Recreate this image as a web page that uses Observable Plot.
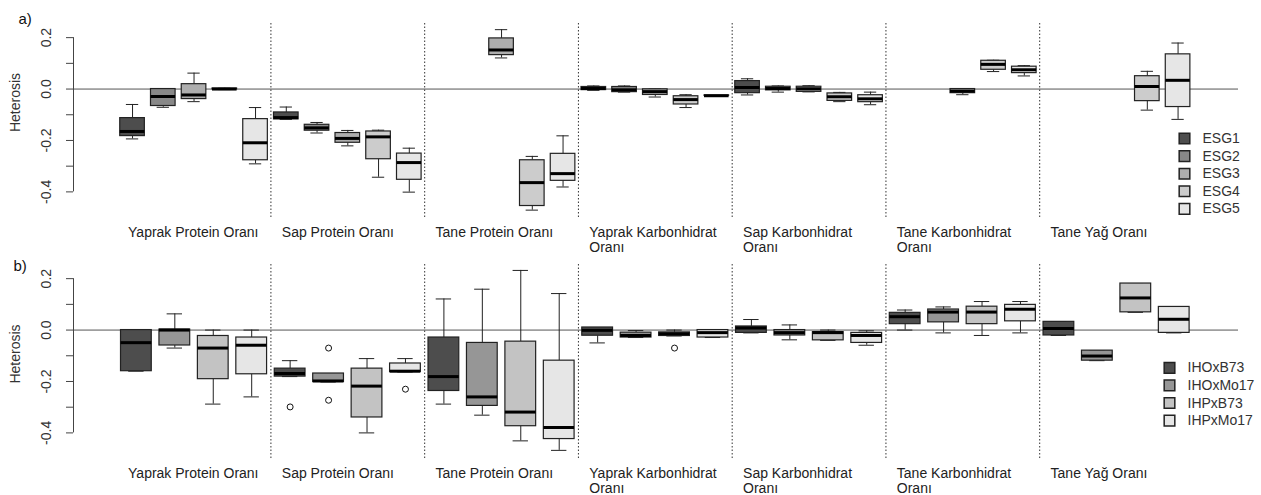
<!DOCTYPE html>
<html><head><meta charset="utf-8">
<script src="https://cdn.jsdelivr.net/npm/d3@7"></script>
<script src="https://cdn.jsdelivr.net/npm/@observablehq/plot@0.6"></script>
<style>
html,body{margin:0;padding:0;background:#fff;}
#chart svg{display:block;}
</style></head><body><div id="chart"></div>
<script>
// ---- categories / tick labels ----
const traitLabels = ["Yaprak Protein Oranı","Sap Protein Oranı","Tane Protein Oranı","Yaprak Karbonhidrat\nOranı","Sap Karbonhidrat\nOranı","Tane Karbonhidrat\nOranı","Tane Yağ Oranı"];
const yTicks = [-0.4,-0.3,-0.2,-0.1,0,0.1,0.2];
const yLabels = [-0.4,-0.2,0,0.2];
const panelNames = ["a","b"];

// ---- panel a series: [lo, q1, median, q3, hi] per trait (null = no data) ----
const seriesA = ["ESG1","ESG2","ESG3","ESG4","ESG5"];
const colorsA = ["#4D4D4D","#888888","#AEAEAE","#CCCCCC","#E6E6E6"];
const esg1 = [[-0.194,-0.183,-0.165,-0.113,-0.060],[-0.118,-0.118,-0.111,-0.091,-0.070],null,[-0.005,-0.004,0.002,0.008,0.012],[-0.023,-0.016,0.006,0.031,0.040],null,null];
const esg2 = [[-0.071,-0.066,-0.029,0.0,0.0],[-0.171,-0.162,-0.151,-0.139,-0.130],null,[-0.012,-0.012,-0.003,0.008,0.012],[-0.012,-0.005,0.002,0.009,0.012],null,null];
const esg3 = [[-0.049,-0.039,-0.023,0.019,0.062],[-0.221,-0.209,-0.192,-0.171,-0.161],[0.121,0.132,0.152,0.197,0.231],[-0.031,-0.023,-0.010,-0.001,0.0],[-0.011,-0.011,0.001,0.009,0.013],[-0.022,-0.016,-0.008,0.0,0.0],null];
const esg4 = [[-0.002,-0.001,0.0,0.002,0.003],[-0.343,-0.273,-0.186,-0.165,-0.160],[-0.471,-0.455,-0.364,-0.277,-0.262],[-0.072,-0.060,-0.041,-0.028,-0.022],[-0.049,-0.046,-0.030,-0.017,-0.013],[0.068,0.075,0.096,0.110,0.112],[-0.082,-0.047,0.010,0.050,0.069]];
const esg5 = [[-0.291,-0.277,-0.209,-0.117,-0.072],[-0.401,-0.353,-0.286,-0.251,-0.230],[-0.381,-0.357,-0.329,-0.252,-0.182],[-0.027,-0.026,-0.026,-0.025,-0.025],[-0.061,-0.051,-0.038,-0.024,-0.012],[0.051,0.062,0.075,0.087,0.091],[-0.118,-0.070,0.034,0.135,0.179]];

// ---- panel b series ----
const seriesB = ["IHOxB73","IHOxMo17","IHPxB73","IHPxMo17"];
const colorsB = ["#4D4D4D","#969696","#C3C3C3","#E6E6E6"];
const ihoB73 = [[-0.160,-0.160,-0.049,0.0,0.0],[-0.181,-0.181,-0.169,-0.150,-0.119],[-0.288,-0.237,-0.181,-0.029,0.121],[-0.050,-0.022,-0.001,0.010,0.010],[-0.011,-0.011,0.008,0.014,0.041],[0.0,0.023,0.052,0.067,0.078],[-0.021,-0.021,0.006,0.032,0.032]];
const ihoMo17 = [[-0.070,-0.060,0.0,0.002,0.063],[-0.202,-0.202,-0.198,-0.169,-0.169],[-0.331,-0.295,-0.260,-0.050,0.159],[-0.029,-0.029,-0.021,-0.010,-0.002],[-0.038,-0.021,-0.010,0.0,0.020],[-0.011,0.030,0.070,0.080,0.090],[-0.119,-0.119,-0.101,-0.080,-0.080]];
const ihpB73 = [[-0.288,-0.191,-0.070,-0.023,0.0],[-0.400,-0.340,-0.218,-0.150,-0.111],[-0.431,-0.374,-0.319,-0.045,0.232],[-0.023,-0.023,-0.014,-0.009,0.0],[-0.040,-0.040,-0.010,-0.008,0.0],[-0.021,0.023,0.070,0.091,0.111],[0.069,0.069,0.125,0.181,0.181]];
const ihpMo17 = [[-0.260,-0.172,-0.059,-0.029,0.0],[-0.163,-0.163,-0.160,-0.130,-0.111],[-0.468,-0.424,-0.379,-0.119,0.142],[-0.029,-0.029,-0.010,0.0,0.0],[-0.059,-0.050,-0.021,-0.011,-0.003],[-0.011,0.034,0.081,0.098,0.111],[-0.011,-0.011,0.042,0.090,0.090]];
// outliers (panel b): trait index, series, value
const outlierTrait = [1,1,1,1,3];
const outlierSeries = ["IHOxB73","IHOxMo17","IHOxMo17","IHPxMo17","IHPxB73"];
const outlierValue = [-0.299,-0.070,-0.273,-0.230,-0.070];

// ---- build tables ----
function build(panel, names, stats){
  const n = names.length, w = 0.8 / n, out = [];
  names.forEach((s, k) => stats[k].forEach((st, g) => {
    if (!st) return;
    out.push({panel, series: s, u: g + (k - (n - 1) / 2) / n, w, lo: st[0], q1: st[1], med: st[2], q3: st[3], hi: st[4]});
  }));
  return out;
}
const boxes = [...build("a", seriesA, [esg1, esg2, esg3, esg4, esg5]), ...build("b", seriesB, [ihoB73, ihoMo17, ihpB73, ihpMo17])];
const outliers = outlierTrait.map((g, i) => {
  const k = seriesB.indexOf(outlierSeries[i]), n = seriesB.length;
  return {panel: "b", u: g + (k - (n - 1) / 2) / n, value: outlierValue[i]};
});

const xDomain = [-0.784, 6.793];
const ink = "#222";
const legendMarks = [];
seriesA.forEach((s, i) => {
  const d = [{panel: "a", series: s}];
  legendMarks.push(Plot.dot(d, {fy: "panel", fill: "series", stroke: ink, symbol: "square", r: 6, frameAnchor: "top-right", dx: -54, dy: 115 + i * 17.6}));
  legendMarks.push(Plot.text(d, {fy: "panel", text: "series", frameAnchor: "top-right", textAnchor: "start", lineAnchor: "middle", dx: -36, dy: 115 + i * 17.6, fontSize: 14, fill: "#333"}));
});
seriesB.forEach((s, i) => {
  const d = [{panel: "b", series: s}];
  legendMarks.push(Plot.dot(d, {fy: "panel", fill: "series", stroke: ink, symbol: "square", r: 6, frameAnchor: "top-right", dx: -69, dy: 103.3 + i * 17.6}));
  legendMarks.push(Plot.text(d, {fy: "panel", text: "series", frameAnchor: "top-right", textAnchor: "start", lineAnchor: "middle", dx: -51, dy: 103.3 + i * 17.6, fontSize: 14, fill: "#333"}));
});

const chart = Plot.plot({
  width: 1261, height: 495,
  marginLeft: 73, marginRight: 23, marginTop: 23, marginBottom: 36,
  style: {fontFamily: "'Liberation Sans', Arial, sans-serif", fontSize: "14px", color: "#222", background: "white"},
  x: {domain: xDomain, axis: null},
  y: {domain: [-0.5035, 0.255]},
  fy: {domain: panelNames, axis: null, paddingInner: 0.191, paddingOuter: 0, round: false},
  color: {domain: [...seriesA, ...seriesB], range: [...colorsA, ...colorsB]},
  marks: [
    Plot.ruleY([0], {stroke: "#555"}),
    Plot.ruleX(d3.range(6).map(g => g + 0.5), {stroke: "#333", strokeDasharray: "1.5,2"}),
    Plot.ruleX([xDomain[0]], {y1: -0.4, y2: 0.2, stroke: "#444"}),
    Plot.axisY({ticks: yTicks, tickSize: 7, tickFormat: () => "", stroke: "#444"}),
    Plot.text(yLabels, {y: d => d, text: d => d.toFixed(1), frameAnchor: "left", dx: -27, rotate: -90, textAnchor: "middle", lineAnchor: "middle", fontSize: 14, fill: "#333"}),
    Plot.ruleX(boxes, {fy: "panel", x: "u", y1: "q3", y2: "hi", stroke: ink}),
    Plot.ruleX(boxes, {fy: "panel", x: "u", y1: "lo", y2: "q1", stroke: ink}),
    Plot.ruleY(boxes, {fy: "panel", y: "hi", x1: d => d.u - d.w / 4, x2: d => d.u + d.w / 4, stroke: ink}),
    Plot.ruleY(boxes, {fy: "panel", y: "lo", x1: d => d.u - d.w / 4, x2: d => d.u + d.w / 4, stroke: ink}),
    Plot.rect(boxes, {fy: "panel", x1: d => d.u - d.w / 2, x2: d => d.u + d.w / 2, y1: "q1", y2: "q3", fill: "series", stroke: ink, strokeWidth: 1.2}),
    Plot.ruleY(boxes, {fy: "panel", y: "med", x1: d => d.u - d.w / 2, x2: d => d.u + d.w / 2, stroke: "#000", strokeWidth: 3}),
    Plot.dot(outliers, {fy: "panel", x: "u", y: "value", r: 3, stroke: "#111", fill: "none", strokeWidth: 1}),
    Plot.text(traitLabels, {x: (d, i) => i, text: d => d, frameAnchor: "bottom", textAnchor: "start", lineAnchor: "top", dx: -66, dy: 7, fontSize: 14, lineHeight: 1.12, fill: "#222"}),
    Plot.text([{panel: "a"}], {fy: "panel", text: () => "Heterosis", frameAnchor: "top-left", dx: -58, dy: 79, rotate: -90, textAnchor: "middle", lineAnchor: "middle", fontSize: 14, fill: "#333"}),
    Plot.text([{panel: "b"}], {fy: "panel", text: () => "Heterosis", frameAnchor: "top-left", dx: -58, dy: 89.5, rotate: -90, textAnchor: "middle", lineAnchor: "middle", fontSize: 14, fill: "#333"}),
    Plot.text([{panel: "a"}], {fy: "panel", text: () => "a)", frameAnchor: "top-left", dx: -55, dy: -4.5, textAnchor: "start", lineAnchor: "middle", fontSize: 15, fill: "#111"}),
    Plot.text([{panel: "b"}], {fy: "panel", text: () => "b)", frameAnchor: "top-left", dx: -60, dy: 2, textAnchor: "start", lineAnchor: "middle", fontSize: 15, fill: "#111"}),
    ...legendMarks
  ]
});
document.getElementById("chart").appendChild(chart);
</script>
</body></html>
